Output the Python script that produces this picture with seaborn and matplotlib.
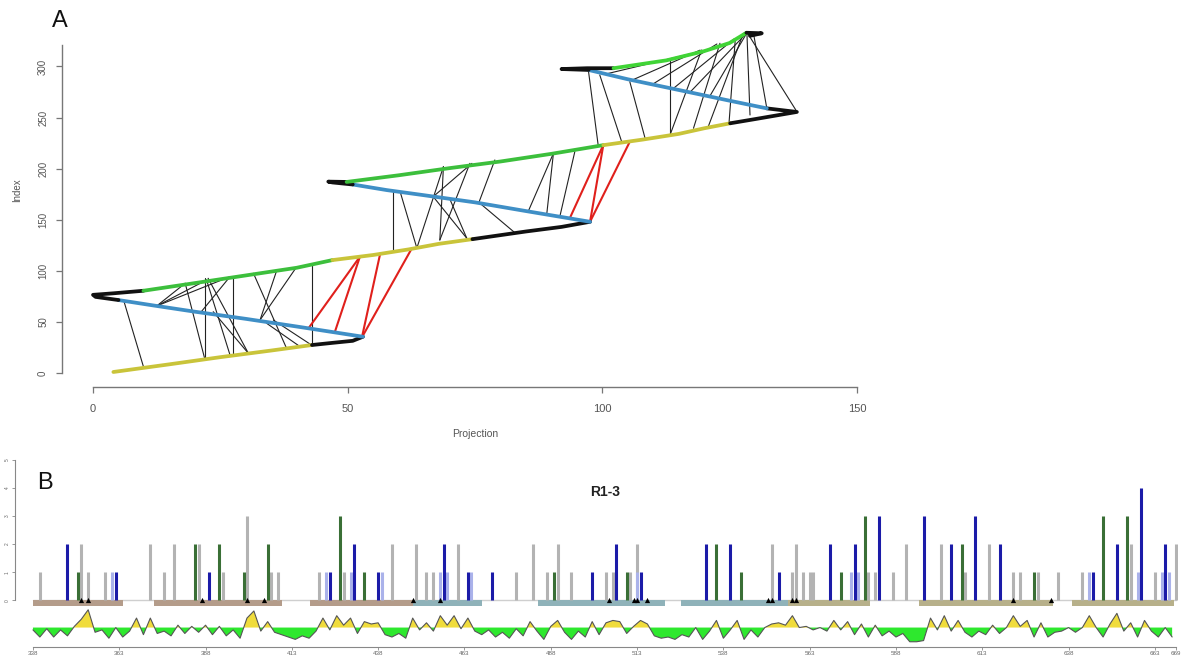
import numpy as np
import pandas as pd
import matplotlib
matplotlib.use("Agg")
import matplotlib.pyplot as plt
import seaborn as sns

# ---------------- Panel A data: folded chain (projection vs index) ----------------
chain_seg = (["Y1"] * 5 + ["K1"] * 4 + ["B1"] * 6 + ["K2"] * 5 + ["G1"] * 5 + ["Y2"] * 5 +
             ["K3"] * 4 + ["B2"] * 6 + ["K4"] * 4 + ["G2"] * 6 + ["Y3"] * 5 + ["K5"] * 4 +
             ["B3"] * 5 + ["K6"] * 4 + ["G3"] * 5 + ["K7"] * 3)
chain_proj = [4.0, 15, 25, 35, 43,
              43, 47, 51, 53,
              53, 40, 30, 20, 12, 5,
              5, 0.5, 0, 4, 9.9,
              9.9, 20, 30, 40, 47,
              47, 55, 62, 68, 74.5,
              74.5, 85, 92, 97.6,
              97.6, 85, 75, 65, 57.7, 51,
              51, 47, 46.2, 49.8,
              49.8, 60, 70, 80, 90, 100.2,
              100.2, 108, 115, 120, 125.1,
              125.1, 130, 138.2, 132.3,
              132.3, 125, 115, 105, 97.3,
              97.3, 92, 97, 102.2,
              102.2, 112.6, 120, 125, 128.3,
              128.3, 131.3, 129]
chain_idx = [1.0, 8.5, 15.5, 22, 27.4,
             27.4, 29.5, 31.5, 35.5,
             35.5, 45.5, 53, 60, 66, 71.4,
             71.4, 74.5, 76.5, 78, 80.5,
             80.5, 88, 95.5, 103, 110.5,
             110.5, 115.5, 121, 126.5, 131,
             131, 138.5, 143, 148,
             148, 158.5, 167, 174, 179, 184.5,
             184.5, 186.5, 187.3, 187,
             187, 193.5, 200.5, 207, 214.5, 223,
             223, 228.5, 234, 239.5, 244.4,
             244.4, 248.5, 255.5, 259,
             259, 266.5, 277, 287.5, 296.6,
             296.6, 297.5, 298.3, 298.3,
             298.3, 306, 315, 323, 333,
             333, 332.5, 330]
seg_palette = {"Y": "#c9c43a", "K": "#111111", "B": "#3f8fc6", "G": "#3cbf3c"}

# contacts (black thin lines): start/end (projection, index)
contact_x0 = [6.0, 12.5, 12.5, 12.5, 18.1, 22.0, 22.3, 22.6, 27.5, 26.9, 31.5, 36.1, 40.0, 42.9, 34.1, 23.6, 35.4,
              59.0, 60.3, 63.6, 68.1, 68.1, 66.8, 74.4, 78.9, 70.1, 76.0, 90.4, 90.4, 94.6,
              97.3, 99.5, 105.4, 113.3, 113.3, 117.9, 120.8, 124.9, 129.0, 138.2, 132.3,
              106.1, 110.0, 114.0, 117.3, 101.0, 121.0]
contact_y0 = [71.4, 65.6, 65.6, 65.6, 87.8, 92.7, 91.0, 92.7, 94.3, 94.3, 97.6, 100.8, 104.0, 105.7, 48.6, 60.0, 51.9,
              179.1, 177.5, 122.5, 130.2, 130.2, 172.6, 205.2, 208.5, 169.8, 166.0, 215.0, 215.0, 216.6,
              294.9, 291.7, 285.1, 306.4, 233.0, 239.5, 241.1, 246.0, 252.5, 255.8, 259.1,
              287.2, 283.0, 278.7, 275.2, 293.0, 270.0]
contact_x1 = [9.9, 18.1, 22.3, 26.9, 22.0, 22.0, 26.9, 30.5, 27.5, 21.0, 38.0, 32.8, 32.8, 42.9, 40.6, 30.5, 42.9,
              59.0, 63.6, 68.8, 68.8, 74.0, 73.4, 66.8, 75.7, 73.4, 82.9, 85.5, 89.1, 91.7,
              99.2, 103.8, 108.4, 113.3, 119.5, 123.1, 127.7, 126.1, 128.4, 128.4, 129.7,
              119.2, 122.5, 125.9, 128.4, 117.0, 128.4]
contact_y1 = [6.2, 87.8, 91.0, 94.3, 12.7, 12.7, 17.6, 19.3, 17.6, 58.4, 24.2, 51.9, 51.9, 29.1, 26.0, 19.3, 27.4,
              120.4, 122.0, 201.9, 201.9, 205.2, 131.8, 172.6, 166.0, 131.8, 137.0, 158.7, 155.9, 154.0,
              222.5, 226.4, 229.7, 233.0, 316.1, 322.7, 332.5, 325.9, 332.0, 333.5, 332.0,
              316.0, 322.0, 327.0, 333.0, 312.0, 333.0]
# red contacts
red_x0 = [42.3, 47.5, 52.8, 52.8, 93.7, 97.6, 97.6]
red_y0 = [43.7, 40.4, 34.9, 34.9, 152.4, 148.1, 148.1]
red_x1 = [52.4, 52.4, 56.4, 62.6, 100.2, 100.2, 105.4]
red_y1 = [113.8, 113.8, 117.1, 122.0, 223.2, 223.2, 226.4]

# ---------------- Panel B data ----------------
grey_res = [340, 352, 354, 359, 372, 376, 379, 386, 393, 400, 407, 409, 421, 428, 442, 449, 452, 454, 461,
            478, 483, 487, 490, 494, 504, 506, 511, 513, 552, 558, 559, 561, 563, 564, 580, 582, 587, 591,
            601, 608, 615, 622, 624, 629, 635, 642, 656, 663, 669]
grey_h = [1, 2, 1, 1, 2, 1, 2, 2, 1, 3, 1, 1, 1, 1, 2, 2, 1, 1, 2,
          1, 2, 1, 2, 1, 1, 1, 1, 2, 2, 1, 2, 1, 1, 1, 1, 1, 1, 2,
          2, 1, 2, 1, 1, 1, 1, 1, 2, 1, 2]
blue_res = [348, 362, 389, 424, 431, 438, 457, 464, 471, 500, 507, 514, 533, 540, 554, 569, 576, 583,
            596, 604, 611, 618, 645, 652, 659, 666]
blue_h = [2, 1, 1, 1, 2, 1, 2, 1, 1, 1, 2, 1, 2, 2, 1, 2, 2, 3, 3, 2, 3, 2, 1, 2, 4, 2]
green_res = [351, 385, 392, 399, 406, 427, 434, 489, 510, 536, 543, 572, 579, 607, 628, 648, 655]
green_h = [1, 2, 2, 1, 2, 3, 1, 1, 1, 2, 1, 1, 3, 2, 1, 3, 3]
lblue_res = [361, 423, 430, 439, 456, 458, 465, 513, 575, 577, 644, 658, 665, 667]
lblue_h = [1, 1, 1, 1, 1, 1, 1, 1, 1, 1, 1, 1, 1, 1]

triangle_res = [352, 354, 387, 400, 405, 448, 456, 505, 512, 513, 516, 551, 552, 558, 559, 622, 633]

domain_start = [338, 373, 418.2, 448.1, 484.4, 525.6, 556.7, 594.7, 638.9]
domain_end = [364.1, 410.1, 448.1, 468, 521.1, 556.7, 580.5, 633.5, 668.6]
domain_kind = ["brown", "brown", "brown", "teal", "teal", "teal", "khaki", "khaki", "khaki"]
domain_colors = {"brown": "#b49c8a", "teal": "#8fb2b9", "khaki": "#b7b08a"}

profile_res = list(range(338, 669, 2))
profile_val = [-0.2, -0.8, -0.1, -0.8, -0.2, -0.7, 0.1,
               0.7, 1.5, -0.4,
               -0.2, -0.9, 0.0, -0.8, -0.3, 0.8, -0.6, 0.8,
               -0.5, -0.3, -0.7, 0.2, -0.5, 0.1, -0.4, 0.2,
               -0.6, 0.1, -0.7, -0.2, -0.9,
               0.8, 1.4, -0.3, 0.5, -0.4,
               -0.6, -0.8, -1.0, -0.7, -0.9, -0.3,
               0.8, -0.2, 1.0, 0.2, 0.8, -0.5,
               0.5, 0.3, 0.4, -0.6,
               -0.8, -0.5, -0.9, 0.8,
               -0.2, 0.4, -0.3, 1.0, 0.2, 1.0, -0.1, 0.8,
               -0.3, -0.6, -0.2, -0.8, -0.4, -0.9, -0.1, -0.7, 0.5,
               -0.3, -1.0, 0.1, 0.6, -0.4, -1.0, -0.3, -0.8, 0.5,
               -0.6, 0.4, 0.6, 0.5, -0.5, 0.1, 0.6, 0.3,
               -0.7, -0.9, -0.8, -1.0, -0.6, -0.8, 0.0,
               -1.0, -0.3, 0.6, -0.9, -0.2, 0.6, -1.0, -0.2,
               -0.8, 0.0, 0.3, 0.4, 0.2, 1.0,
               0.0, 0.1, -0.2, 0.0, -0.3,
               0.6, -0.2, 0.5, -0.6, 0.3, -0.8,
               0.2, -0.7, -0.3, -0.8, -0.5, -1.2, -1.2, -1.1,
               0.8, -0.2, 1.0, -0.3, 0.6, -0.4, -0.8, -0.3,
               -0.6, 0.2, -0.5, 0.0,
               1.0, 0.1, 0.6, -0.8, 0.4, -0.8, -0.4,
               -0.3, 0.0, -0.4, 0.0,
               1.0, 0.0, -0.8, 0.3,
               1.2, -0.3, 0.4, -0.8, 0.6, -0.3, -0.8, 0.0, -0.8]
xtick_res = [338, 363, 388, 413, 438, 463, 488, 513, 538, 563, 588, 613, 638, 663, 669]

# ---------------- Figure ----------------
sns.set_theme(style="white")
plt.rcParams['font.family'] = ['Liberation Sans', 'DejaVu Sans']
W, H = 1182, 659
fig = plt.figure(figsize=(W / 100, H / 100), dpi=100)


def fx(px):
    return px / W


def fy(py):
    return 1 - py / H


# ---- Panel A ----
axA = fig.add_axes([fx(62), (H - 387) / H, (865 - 62) / W, (387 - 30) / H])
for x0, y0, x1, y1 in zip(contact_x0, contact_y0, contact_x1, contact_y1):
    axA.plot([x0, x1], [y0, y1], color="#222222", lw=0.8, solid_capstyle="round", zorder=2)
for x0, y0, x1, y1 in zip(red_x0, red_y0, red_x1, red_y1):
    axA.plot([x0, x1], [y0, y1], color="#e0201c", lw=1.5, zorder=3)

chain_df = pd.DataFrame({"proj": chain_proj, "idx": chain_idx, "seg": chain_seg})
for seg, sub in chain_df.groupby("seg", sort=False):
    col = seg_palette[seg[0]]
    if seg == "G3":
        col = "#40d436"
    sns.lineplot(data=sub, x="proj", y="idx", sort=False, estimator=None, color=col,
                 lw=2.7, ax=axA, zorder=4, solid_capstyle="round")

axA.set_xlim(-6.09, 151.58)
axA.set_ylim(-13.7, 335.7)
for s in ["top", "right"]:
    axA.spines[s].set_visible(False)
axA.spines["left"].set_bounds(0, 321)
axA.spines["bottom"].set_bounds(0, 150)
for s in ["left", "bottom"]:
    axA.spines[s].set_color("#777777")
    axA.spines[s].set_linewidth(1.0)
axA.set_xticks([0, 50, 100, 150])
axA.set_yticks([0, 50, 100, 150, 200, 250, 300])
axA.tick_params(axis="both", direction="out", length=4, width=0.9, color="#777777",
                labelcolor="#555555", bottom=True, left=True)
axA.tick_params(axis="x", labelsize=8, pad=8)
axA.tick_params(axis="y", labelsize=7, pad=6)
for lab in axA.get_yticklabels():
    lab.set_rotation(90)
    lab.set_va("center")
axA.set_xlabel("")
axA.set_ylabel("")
fig.text(fx(17), fy(190), "Index", rotation=90, ha="center", va="center", fontsize=7, color="#555555")
fig.text(fx(475), fy(434), "Projection", ha="center", va="center", fontsize=7.5, color="#555555")
fig.text(fx(60), fy(21), "A", ha="center", va="center", fontsize=17, color="#111111")

# ---- Panel B ----
axB = fig.add_axes([fx(15), 12 / H, (1178 - 15) / W, (647 - 455) / H])
axB.set_xlim(332.8, 669.7)
axB.set_ylim(-1.65, 5.16)

axB.plot([338, 669], [0, 0], color="#cfcfcf", lw=1.0, zorder=1)
# domain bars
for s0, s1, k in zip(domain_start, domain_end, domain_kind):
    axB.barh(y=-0.1, width=s1 - s0, left=s0, height=0.22, color=domain_colors[k], zorder=2, linewidth=0)

# interaction bars
axB.vlines(grey_res, 0, grey_h, color="#b3b3b3", lw=2.2, zorder=3)
axB.vlines(lblue_res, 0, lblue_h, color="#aab2ea", lw=2.2, zorder=3)
axB.vlines(green_res, 0, green_h, color="#3a6f36", lw=2.2, zorder=4)
axB.vlines(blue_res, 0, blue_h, color="#1b1ba8", lw=2.2, zorder=4)
axB.scatter(triangle_res, [0.0] * len(triangle_res), marker="^", s=14, color="black", zorder=5, linewidths=0)

# hydropathy-like profile
base = -0.96
scale = 0.42
prof = pd.DataFrame({"res": profile_res, "val": profile_val})
prof["y"] = base + prof["val"] * scale
axB.fill_between(prof["res"], base, prof["y"], where=prof["y"] <= base, interpolate=True,
                 color="#2ee82e", lw=0, zorder=2)
axB.fill_between(prof["res"], base, prof["y"], where=prof["y"] >= base, interpolate=True,
                 color="#f0dc3c", lw=0, zorder=2)
sns.lineplot(data=prof, x="res", y="y", sort=False, estimator=None, color="#555555", lw=0.8,
             ax=axB, zorder=3)

for s in ["top", "right"]:
    axB.spines[s].set_visible(False)
axB.spines["left"].set_bounds(0, 5)
axB.spines["bottom"].set_bounds(338, 669)
for s in ["left", "bottom"]:
    axB.spines[s].set_color("#888888")
    axB.spines[s].set_linewidth(0.8)
axB.set_yticks([0, 1, 2, 3, 4, 5])
axB.set_yticklabels(["0", "1", "2", "3", "4", "5"])
axB.set_xticks(xtick_res)
axB.set_xticklabels([str(v) for v in xtick_res])
axB.tick_params(axis="both", direction="out", length=2, width=0.6, color="#888888",
                labelcolor="#666666", bottom=True, left=True)
axB.tick_params(axis="x", labelsize=4.5, pad=1)
axB.tick_params(axis="y", labelsize=3.5, pad=2)
for lab in axB.get_yticklabels():
    lab.set_rotation(90)
    lab.set_va("center")
axB.set_xlabel("")
axB.set_ylabel("")
fig.text(fx(45), fy(483), "B", ha="center", va="center", fontsize=17, color="#111111")
fig.text(fx(605), fy(492), "R1-3", ha="center", va="center", fontsize=10, fontweight="bold",
         color="#222222")

fig.savefig("out.png", dpi=100)
